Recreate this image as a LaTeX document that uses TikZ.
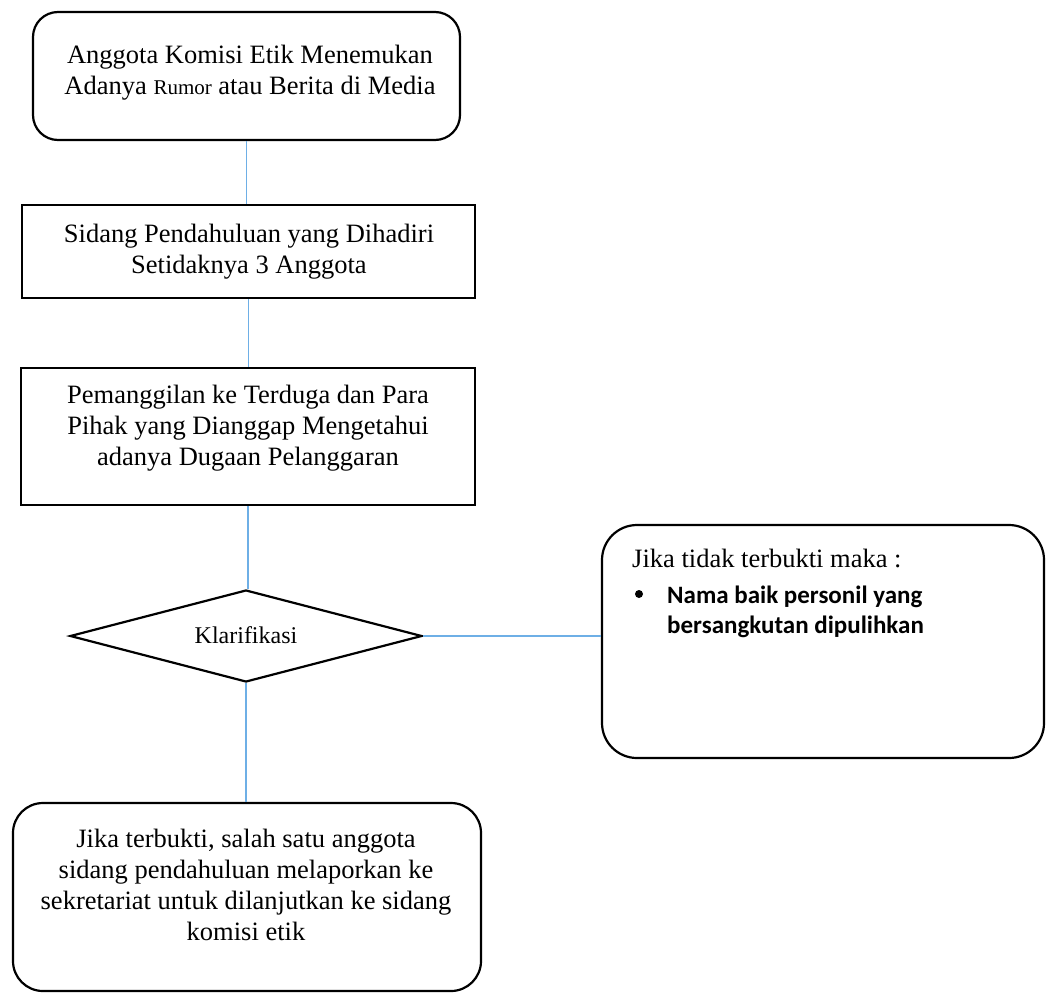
\documentclass[tikz,border=0pt]{standalone}
\usepackage{fontspec}
\setmainfont{Liberation Serif}
\newfontfamily\calibri{Carlito}
\usetikzlibrary{shapes.geometric}
\definecolor{linecol}{RGB}{110,175,230}
\tikzset{
  boxbase/.style={draw=black, line width=2.2pt, inner sep=0pt},
  roundbox/.style={boxbase, rectangle, rounded corners=#1},
  sharpbox/.style={boxbase, rectangle},
  decision/.style={boxbase, diamond},
  conn/.style={draw=linecol, line width=1.6pt},
  maintext/.style={font=\fontsize{26.5}{31}\selectfont, align=center, anchor=base, inner sep=0pt},
  lefttext/.style={font=\fontsize{26.5}{31}\selectfont, align=left, anchor=base west, inner sep=0pt},
  boldtext/.style={font=\calibri\bfseries\fontsize{25}{30}\selectfont, align=left, anchor=base west, inner sep=0pt},
}
\begin{document}
\begin{tikzpicture}[x=1pt,y=-1pt]
\useasboundingbox (0,0) rectangle (1048,996);
% boxes
\node[roundbox=25pt, minimum width=427pt, minimum height=128pt] (b1) at (246.5,76) {};
\node[sharpbox, minimum width=453pt, minimum height=93pt] (b2) at (248.5,251.5) {};
\node[sharpbox, minimum width=454pt, minimum height=137pt] (b3) at (248,436.5) {};
\node[decision, minimum width=352pt, minimum height=92pt] (d) at (246,636) {};
\node[roundbox=35pt, minimum width=442pt, minimum height=233pt] (r) at (823,641.5) {};
\node[roundbox=30pt, minimum width=468pt, minimum height=188pt] (e) at (247,897) {};
% connectors
\draw[conn] (b1.south) -- (b1.south |- b2.north);
\draw[conn] (b2.south) -- (b2.south |- b3.north);
\draw[conn] (b3.south) -- (b3.south |- d.north);
\draw[conn] (d.south) -- (d.south |- e.north);
\draw[conn] (d.east) -- (d.east -| r.west);
% texts (base anchor = baseline of the last line)
\node[maintext] (t1) at (250,94) {Anggota Komisi Etik Menemukan\\Adanya {\fontsize{21}{25}\selectfont Rumor} atau Berita di Media};
\node[maintext] (t2) at (249,273) {Sidang Pendahuluan yang Dihadiri\\Setidaknya 3 Anggota};
\node[maintext] (t3) at (248,465) {Pemanggilan ke Terduga dan Para\\Pihak yang Dianggap Mengetahui\\adanya Dugaan Pelanggaran};
\node[maintext, font=\fontsize{24}{28}\selectfont] (t4) at (246,643) {Klarifikasi};
\node[maintext] (t5) at (246,940) {Jika terbukti, salah satu anggota\\sidang pendahuluan melaporkan ke\\sekretariat untuk dilanjutkan ke sidang\\komisi etik};
\node[lefttext] (t6) at (632,567) {Jika tidak terbukti maka :};
\node[circle, fill=black, inner sep=0pt, minimum size=8pt] (bul) at (639,594) {};
\node[boldtext] (t7) at (667,633) {Nama baik personil yang\\bersangkutan dipulihkan};
\end{tikzpicture}
\end{document}
